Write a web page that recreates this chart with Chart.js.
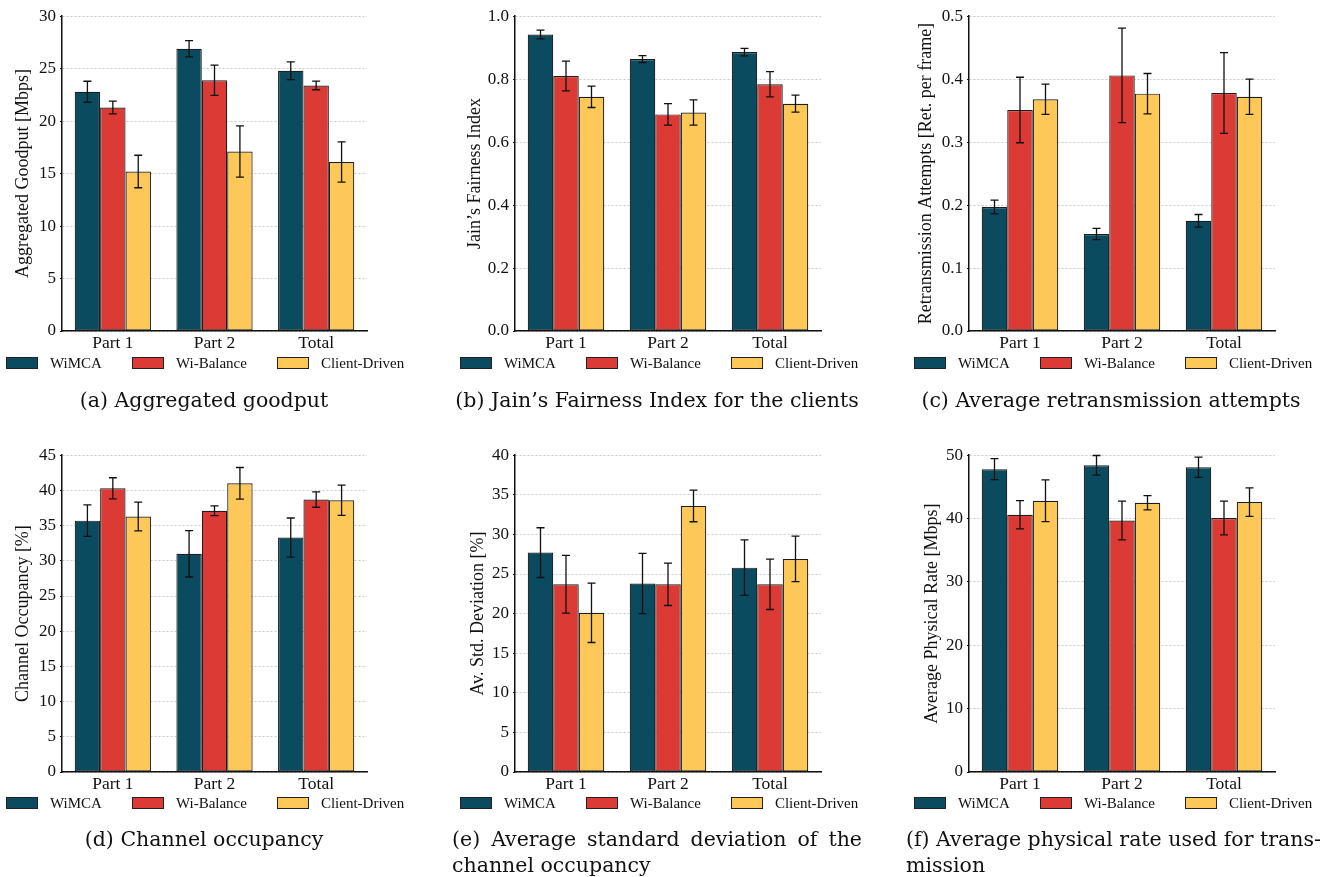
<!DOCTYPE html>
<html lang="en">
<head>
    <meta charset="UTF-8">
    <title>WiMCA evaluation</title>
    <script src="https://cdn.jsdelivr.net/npm/chart.js"></script>
    <style>
        body { margin: 0; background: #fff; }
        .page { position: relative; width: 1336px; height: 877px; overflow: hidden; }
        .page canvas { position: absolute; }
        .legend { position: absolute; display: flex; align-items: center; gap: 30px;
                  font-family: 'Liberation Serif', serif; font-size: 15px; color: #111; height: 16px; }
        .legend .item { display: flex; align-items: center; gap: 12px; }
        .legend .box { width: 30px; height: 10px; border: 1px solid #222; }
        .caption { position: absolute; width: 410px; font-family: 'DejaVu Serif', serif;
                   font-size: 20.5px; line-height: 26px; color: #111; }
        .caption.center { text-align: center; white-space: nowrap; }
        .caption .just { text-align: justify; text-align-last: justify; white-space: nowrap; }
    </style>
</head>
<body>
<div class="page" id="page"></div>

<script>
    // categories and series
    const categories = ['Part 1', 'Part 2', 'Total'];
    const seriesNames = ['WiMCA', 'Wi-Balance', 'Client-Driven'];

    // (a) aggregated goodput [Mbps], rows = series
    const goodputMeans = [[22.8, 26.9, 24.8], [21.3, 23.9, 23.4], [15.2, 17.1, 16.1]];
    const goodputErrs  = [[1.0, 0.78, 0.84], [0.6, 1.44, 0.41], [1.55, 2.44, 1.92]];
    const goodputTicks = [0, 5, 10, 15, 20, 25, 30];

    // (b) Jain's fairness index
    const fairnessMeans = [[0.942, 0.864, 0.886], [0.810, 0.688, 0.784], [0.744, 0.694, 0.722]];
    const fairnessErrs  = [[0.014, 0.011, 0.012], [0.047, 0.034, 0.040], [0.034, 0.040, 0.027]];
    const fairnessTicks = [0, 0.2, 0.4, 0.6, 0.8, 1.0];

    // (c) retransmission attempts per frame
    const retransMeans = [[0.197, 0.154, 0.175], [0.351, 0.406, 0.378], [0.368, 0.377, 0.372]];
    const retransErrs  = [[0.011, 0.009, 0.010], [0.052, 0.075, 0.064], [0.024, 0.032, 0.028]];
    const retransTicks = [0, 0.1, 0.2, 0.3, 0.4, 0.5];

    // (d) channel occupancy [%]
    const occupancyMeans = [[35.7, 31.0, 33.3], [40.3, 37.1, 38.7], [36.3, 41.0, 38.6]];
    const occupancyErrs  = [[2.23, 3.3, 2.78], [1.5, 0.69, 1.09], [2.04, 2.25, 2.16]];
    const occupancyTicks = [0, 5, 10, 15, 20, 25, 30, 35, 40, 45];

    // (e) average std. deviation of channel occupancy [%]
    const stdDevMeans = [[27.7, 23.8, 25.8], [23.7, 23.7, 23.7], [20.1, 33.6, 26.9]];
    const stdDevErrs  = [[3.14, 3.8, 3.5], [3.65, 2.68, 3.18], [3.75, 2.0, 2.87]];
    const stdDevTicks = [0, 5, 10, 15, 20, 25, 30, 35, 40];

    // (f) average physical rate [Mbps]
    const phyRateMeans = [[47.8, 48.4, 48.1], [40.6, 39.7, 40.1], [42.8, 42.5, 42.6]];
    const phyRateErrs  = [[1.66, 1.55, 1.6], [2.24, 3.05, 2.66], [3.29, 1.13, 2.24]];
    const phyRateTicks = [0, 10, 20, 30, 40, 50];

    const colors = ['#0b4b60', '#db3a35', '#fec859'];

    // panels: data + where they sit on the page
    const panels = [
        { means: goodputMeans, errs: goodputErrs, ticks: goodputTicks, decimals: 0,
          yTitle: 'Aggregated Goodput [Mbps]', caption: ['(a) Aggregated goodput'],
          left: 12, top: 2, width: 365, height: 359, axisW: 50, col: 0, row: 0 },
        { means: fairnessMeans, errs: fairnessErrs, ticks: fairnessTicks, decimals: 1,
          yTitle: 'Jain\u2019s Fairness Index', caption: ['(b) Jain\u2019s Fairness Index for the clients'],
          left: 464, top: 2, width: 367, height: 359, axisW: 51, col: 1, row: 0 },
        { means: retransMeans, errs: retransErrs, ticks: retransTicks, decimals: 1,
          yTitle: 'Retransmission Attempts [Ret. per frame]', caption: ['(c) Average retransmission attempts'],
          left: 915, top: 2, width: 370, height: 359, axisW: 54, col: 2, row: 0 },
        { means: occupancyMeans, errs: occupancyErrs, ticks: occupancyTicks, decimals: 0,
          yTitle: 'Channel Occupancy [%]', caption: ['(d) Channel occupancy'],
          left: 12, top: 441, width: 365, height: 361, axisW: 50, col: 0, row: 1 },
        { means: stdDevMeans, errs: stdDevErrs, ticks: stdDevTicks, decimals: 0,
          yTitle: 'Av. Std. Deviation [%]', caption: ['(e) Average standard deviation of the', 'channel occupancy'],
          left: 467, top: 441, width: 364, height: 361, axisW: 48, col: 1, row: 1 },
        { means: phyRateMeans, errs: phyRateErrs, ticks: phyRateTicks, decimals: 0,
          yTitle: 'Average Physical Rate [Mbps]', caption: ['(f) Average physical rate used for trans-', 'mission'],
          left: 921, top: 441, width: 364, height: 361, axisW: 48, col: 2, row: 1 }
    ];

    const colLegendLeft = [6, 460, 914];
    const colCaptionLeft = [-1, 452, 906];
    const rowLegendTop = [355, 795];
    const rowCaptionTop = [387, 826];

    Chart.defaults.font.family = "'Liberation Serif', serif";
    Chart.defaults.color = '#111';

    // error bars drawn from the y scale
    const errorBars = {
        id: 'errorBars',
        afterDatasetsDraw(chart) {
            const ctx = chart.ctx;
            const y = chart.scales.y;
            ctx.save();
            ctx.strokeStyle = '#111';
            ctx.lineWidth = 1.3;
            chart.data.datasets.forEach((ds, di) => {
                chart.getDatasetMeta(di).data.forEach((bar, i) => {
                    const yt = y.getPixelForValue(ds.data[i] + ds.errors[i]);
                    const yb = y.getPixelForValue(ds.data[i] - ds.errors[i]);
                    const cap = 4;
                    ctx.beginPath();
                    ctx.moveTo(bar.x, yt); ctx.lineTo(bar.x, yb);
                    ctx.moveTo(bar.x - cap, yt); ctx.lineTo(bar.x + cap, yt);
                    ctx.moveTo(bar.x - cap, yb); ctx.lineTo(bar.x + cap, yb);
                    ctx.stroke();
                });
            });
            ctx.restore();
        }
    };

    const page = document.getElementById('page');

    panels.forEach(p => {
        const canvas = document.createElement('canvas');
        canvas.width = p.width;
        canvas.height = p.height;
        canvas.style.left = p.left + 'px';
        canvas.style.top = p.top + 'px';
        page.appendChild(canvas);

        new Chart(canvas.getContext('2d'), {
            type: 'bar',
            data: {
                labels: categories,
                datasets: seriesNames.map((name, si) => ({
                    label: name,
                    data: p.means[si],
                    errors: p.errs[si],
                    backgroundColor: colors[si],
                    borderColor: '#1e1e1e',
                    borderWidth: 1.2,
                    borderSkipped: false,
                    categoryPercentage: 0.75,
                    barPercentage: 1.0
                }))
            },
            options: {
                responsive: false,
                animation: false,
                layout: { padding: { top: 14, right: 10, left: 0, bottom: 0 } },
                plugins: { legend: { display: false }, tooltip: { enabled: false } },
                scales: {
                    x: {
                        grid: { display: false, drawTicks: false, tickLength: 0 },
                        border: { color: '#111', width: 1.5 },
                        ticks: { font: { size: 17.5 }, padding: 2, color: '#111' },
                        afterFit: a => { a.height = 30; }
                    },
                    y: {
                        min: p.ticks[0],
                        max: p.ticks[p.ticks.length - 1],
                        afterBuildTicks: a => { a.ticks = p.ticks.map(v => ({ value: v })); },
                        afterFit: a => { a.width = p.axisW; },
                        grid: { color: '#c8c8c8', lineWidth: 1, drawTicks: true, tickLength: 2,
                                tickColor: '#111', tickWidth: 1, tickBorderDash: [] },
                        border: { color: '#111', width: 1.5, dash: [2, 2] },
                        ticks: {
                            font: { size: 17 }, padding: 4, color: '#111',
                            callback: v => Number(v).toFixed(p.decimals)
                        },
                        title: { display: true, text: p.yTitle, font: { size: 18 }, padding: 0, color: '#111' }
                    }
                }
            },
            plugins: [errorBars]
        });

        // legend
        const legend = document.createElement('div');
        legend.className = 'legend';
        legend.style.left = colLegendLeft[p.col] + 'px';
        legend.style.top = rowLegendTop[p.row] + 'px';
        seriesNames.forEach((name, si) => {
            const item = document.createElement('div');
            item.className = 'item';
            const box = document.createElement('div');
            box.className = 'box';
            box.style.background = colors[si];
            const label = document.createElement('span');
            label.textContent = name;
            item.appendChild(box);
            item.appendChild(label);
            legend.appendChild(item);
        });
        page.appendChild(legend);

        // caption
        const cap = document.createElement('div');
        cap.className = 'caption';
        cap.style.left = colCaptionLeft[p.col] + 'px';
        cap.style.top = rowCaptionTop[p.row] + 'px';
        if (p.caption.length === 1) {
            cap.classList.add('center');
            cap.textContent = p.caption[0];
        } else {
            const l1 = document.createElement('div');
            l1.className = 'just';
            l1.textContent = p.caption[0];
            const l2 = document.createElement('div');
            l2.textContent = p.caption[1];
            cap.appendChild(l1);
            cap.appendChild(l2);
        }
        page.appendChild(cap);
    });
</script>
</body>
</html>
